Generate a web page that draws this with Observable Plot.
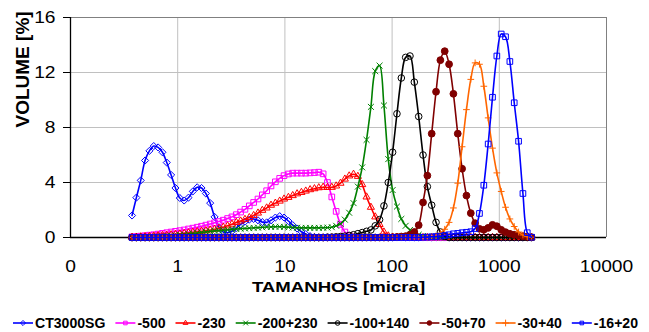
<!DOCTYPE html>
<html>
<head>
<meta charset="utf-8">
<script src="https://cdn.jsdelivr.net/npm/d3@7"></script>
<script src="https://cdn.jsdelivr.net/npm/@observablehq/plot@0.6"></script>
<style>
  body { margin: 0; background: #ffffff; font-family: "Liberation Sans", Arial, sans-serif; }
  #chart svg, #legend svg { display: block; }
</style>
</head>
<body>
<div id="chart"></div>
<div id="legend"></div>
<script>
// ---------- DATA ----------
// particle size classes (micra), 0.375 .. 2000
const sizes = [
  0.375, 0.4117, 0.4519, 0.4961, 0.5446, 0.5978, 0.6563, 0.7204, 0.7909, 0.8682,
  0.9531, 1.046, 1.149, 1.261, 1.384, 1.520, 1.668, 1.831, 2.010, 2.207,
  2.423, 2.660, 2.920, 3.205, 3.519, 3.863, 4.240, 4.655, 5.110, 5.610,
  6.158, 6.760, 7.421, 8.147, 8.943, 9.818, 10.78, 11.83, 12.99, 14.26,
  15.65, 17.18, 18.86, 20.71, 22.73, 24.95, 27.39, 30.07, 33.01, 36.24,
  39.78, 43.67, 47.94, 52.63, 57.77, 63.42, 69.62, 76.43, 83.90, 92.10,
  101.1, 111.0, 121.9, 133.8, 146.8, 161.2, 177.0, 194.3, 213.3, 234.1,
  257.0, 282.1, 309.7, 340.0, 373.2, 409.7, 449.8, 493.8, 542.1, 595.1,
  653.3, 717.2, 787.3, 864.3, 948.8, 1042, 1143, 1255, 1378, 1513,
  1661, 1823, 2000
];

const seriesNames = ["CT3000SG", "-500", "-230", "-200+230", "-100+140", "-50+70", "-30+40", "-16+20"];

const volCT3000SG = [
  1.6, 2.9, 4.15, 5.6, 6.3, 6.65, 6.55, 6.2, 5.45, 4.55,
  3.6, 2.87, 2.69, 2.9, 3.35, 3.65, 3.6, 3.2, 2.5, 1.5,
  0.75, 0.4, 0.35, 0.45, 0.7, 0.95, 1.15, 1.3, 1.35, 1.25,
  1.12, 1.1, 1.25, 1.45, 1.55, 1.45, 1.2, 0.9, 0.65, 0.42,
  0.25, 0.1, 0.03, 0, 0, 0, 0, 0, 0, 0,
  0, 0, 0, 0, 0, 0, 0, 0, 0, 0,
  0, 0, 0, 0, 0, 0, 0, 0, 0, 0,
  0, 0, 0, 0, 0, 0, 0, 0, 0, 0,
  0, 0, 0, 0, 0, 0, 0, 0, 0, 0,
  0, 0, 0
];
const vol500 = [
  0.05, 0.07, 0.1, 0.13, 0.17, 0.2, 0.25, 0.3, 0.35, 0.4,
  0.45, 0.5, 0.55, 0.62, 0.68, 0.75, 0.82, 0.9, 0.98, 1.07,
  1.16, 1.26, 1.38, 1.5, 1.66, 1.85, 2.05, 2.3, 2.55, 2.8,
  3.1, 3.4, 3.75, 4.05, 4.3, 4.5, 4.62, 4.68, 4.68, 4.68,
  4.68, 4.7, 4.72, 4.75, 4.63, 4.0, 2.95, 1.9, 0.95, 0.4,
  0.15, 0.03, 0, 0, 0, 0, 0, 0, 0, 0,
  0, 0, 0, 0, 0, 0, 0, 0, 0, 0,
  0, 0, 0, 0, 0, 0, 0, 0, 0, 0,
  0, 0, 0, 0, 0, 0, 0, 0, 0, 0,
  0, 0, 0
];
const vol230 = [
  0.02, 0.03, 0.05, 0.07, 0.09, 0.11, 0.13, 0.15, 0.17, 0.2,
  0.23, 0.26, 0.3, 0.34, 0.38, 0.42, 0.46, 0.5, 0.55, 0.6,
  0.67, 0.75, 0.85, 0.97, 1.1, 1.2, 1.32, 1.45, 1.6, 1.78,
  1.98, 2.15, 2.35, 2.5, 2.65, 2.8, 2.92, 3.05, 3.18, 3.28,
  3.38, 3.48, 3.55, 3.62, 3.66, 3.64, 3.65, 3.75, 3.95, 4.25,
  4.48, 4.6, 4.45, 3.85, 2.95, 2.2, 1.5, 0.95, 0.4, 0.12,
  0.03, 0, 0, 0, 0, 0, 0, 0, 0, 0,
  0, 0, 0, 0, 0, 0, 0, 0, 0, 0,
  0, 0, 0, 0, 0, 0, 0, 0, 0, 0,
  0, 0, 0
];
const vol200_230 = [
  0.01, 0.01, 0.02, 0.03, 0.04, 0.05, 0.06, 0.08, 0.1, 0.12,
  0.15, 0.18, 0.21, 0.25, 0.29, 0.33, 0.37, 0.41, 0.45, 0.48,
  0.5, 0.53, 0.56, 0.59, 0.62, 0.64, 0.66, 0.68, 0.7, 0.72,
  0.74, 0.76, 0.77, 0.78, 0.78, 0.77, 0.75, 0.73, 0.71, 0.7,
  0.7, 0.7, 0.7, 0.7, 0.71, 0.72, 0.75, 0.85, 1.0, 1.3,
  1.8, 2.5, 3.7, 5.1, 7.1, 9.5, 12.1, 12.5, 9.6, 5.7,
  3.45, 2.25, 1.35, 0.85, 0.55, 0.35, 0.2, 0.1, 0.04, 0,
  0, 0, 0, 0, 0, 0, 0, 0, 0, 0,
  0, 0, 0, 0, 0, 0, 0, 0, 0, 0,
  0, 0, 0
];
const vol100_140 = [
  0, 0, 0, 0, 0, 0, 0, 0, 0, 0,
  0, 0, 0, 0, 0, 0, 0, 0, 0, 0,
  0, 0, 0, 0, 0, 0, 0, 0, 0, 0,
  0, 0, 0, 0, 0, 0, 0, 0, 0, 0,
  0, 0, 0, 0, 0, 0.02, 0.03, 0.05, 0.07, 0.1,
  0.15, 0.2, 0.28, 0.36, 0.45, 0.55, 0.85, 1.3, 2.3, 4.0,
  6.2, 9.0, 11.6, 13.1, 13.2, 11.3, 8.8, 6.0, 3.7, 2.35,
  1.1, 0.4, 0.08, 0, 0, 0, 0, 0, 0, 0,
  0, 0, 0, 0, 0, 0, 0, 0, 0, 0,
  0, 0, 0
];
const vol50_70 = [
  0, 0, 0, 0, 0, 0, 0, 0, 0, 0,
  0, 0, 0, 0, 0, 0, 0, 0, 0, 0,
  0, 0, 0, 0, 0, 0, 0, 0, 0, 0,
  0, 0, 0, 0, 0, 0, 0, 0, 0, 0,
  0, 0, 0, 0, 0, 0, 0, 0, 0, 0,
  0, 0, 0, 0, 0, 0, 0, 0, 0, 0,
  0.02, 0.04, 0.07, 0.1, 0.2, 0.4, 0.9, 2.55, 4.5, 7.55,
  10.6, 12.9, 13.55, 12.6, 10.45, 7.55, 5.0, 3.05, 1.77, 1.04,
  0.63, 0.56, 0.7, 0.92, 0.82, 0.56, 0.39, 0.27, 0.2, 0.15,
  0.1, 0.05, 0.02
];
const vol30_40 = [
  0, 0, 0, 0, 0, 0, 0, 0, 0, 0,
  0, 0, 0, 0, 0, 0, 0, 0, 0, 0,
  0, 0, 0, 0, 0, 0, 0, 0, 0, 0,
  0, 0, 0, 0, 0, 0, 0, 0, 0, 0,
  0, 0, 0, 0, 0, 0, 0, 0, 0, 0,
  0, 0, 0, 0, 0, 0, 0, 0, 0, 0,
  0, 0, 0, 0, 0, 0, 0, 0.01, 0.02, 0.05,
  0.12, 0.31, 0.6, 1.1, 2.15, 3.95, 6.6, 9.3, 11.5, 12.7,
  12.6, 11.0, 8.7, 6.5, 4.7, 3.35, 2.2, 1.35, 0.8, 0.4,
  0.18, 0.06, 0.02
];
const vol16_20 = [
  0, 0, 0, 0, 0, 0, 0, 0, 0, 0,
  0, 0, 0, 0, 0, 0, 0, 0, 0, 0,
  0, 0, 0, 0, 0, 0, 0, 0, 0, 0,
  0, 0, 0, 0, 0, 0, 0, 0, 0, 0,
  0, 0, 0, 0, 0, 0, 0, 0, 0, 0,
  0, 0, 0, 0, 0, 0, 0, 0, 0, 0,
  0, 0, 0, 0, 0, 0, 0, 0.02, 0.03, 0.05,
  0.07, 0.1, 0.15, 0.2, 0.27, 0.3, 0.35, 0.38, 0.42, 0.65,
  1.75, 3.8, 6.8, 10.2, 13.2, 14.8, 14.6, 12.8, 9.8, 7.0,
  3.2, 0.35, 0.02
];

const xTicks = [0.1, 1, 10, 100, 1000, 10000];
const xTickLabels = ["0", "1", "10", "100", "1000", "10000"];
const yTicks = [0, 4, 8, 12, 16];
const xTitle = "TAMANHOS [micra]";
const yTitle = "VOLUME [%]";

// ---------- STYLES ----------
const seriesValues = [volCT3000SG, vol500, vol230, vol200_230, vol100_140, vol50_70, vol30_40, vol16_20];
const seriesStyle = [
  {color: "#0000ff", symbol: "diamond2", fill: "none", r: 3.2},
  {color: "#ff00ff", symbol: "square2", fill: "none", r: 3.6},
  {color: "#ff0000", symbol: "triangle2", fill: "none", r: 3.4},
  {color: "#008000", symbol: "times", fill: "none", r: 2.8},
  {color: "#000000", symbol: "circle", fill: "none", r: 3.3},
  {color: "#800000", symbol: "circle", fill: "#800000", r: 3.4},
  {color: "#ff6600", symbol: "plus", fill: "none", r: 2.3},
  {color: "#0000ff", symbol: "square2", fill: "none", r: 3.6}
];

const tables = seriesNames.map((name, k) =>
  sizes.map((x, i) => ({name, x, y: seriesValues[k][i]}))
);

const seriesMarks = [];
tables.forEach((rows, k) => {
  const s = seriesStyle[k];
  seriesMarks.push(Plot.line(rows, {x: "x", y: "y", stroke: s.color, strokeWidth: 1.6, curve: "catmull-rom"}));
  seriesMarks.push(Plot.dot(rows, {x: "x", y: "y", symbol: () => s.symbol, stroke: s.color, fill: s.fill, r: s.r, strokeWidth: 1}));
});

const chart = Plot.plot({
  width: 649,
  height: 305,
  marginLeft: 70,
  marginRight: 43,
  marginTop: 17,
  marginBottom: 68,
  style: {fontFamily: "'Liberation Sans', Arial, sans-serif", fontSize: "16px", color: "#000", background: "#fff"},
  x: {type: "log", domain: [0.1, 10000]},
  y: {domain: [0, 16]},
  symbol: {type: "identity"},
  marks: [
    Plot.gridX(xTicks, {stroke: "#c0c0c0", strokeOpacity: 1}),
    Plot.gridY(yTicks, {stroke: "#c0c0c0", strokeOpacity: 1}),
    Plot.ruleY([16], {stroke: "#808080", strokeWidth: 1}),
    Plot.ruleX([10000], {stroke: "#808080", strokeWidth: 1}),
    Plot.ruleX([0.1], {stroke: "#000", strokeWidth: 1.3}),
    Plot.ruleY([0], {stroke: "#000", strokeWidth: 1.6}),
    Plot.axisX(xTicks, {tickSize: 0, tickPadding: 23, tickFormat: d => xTickLabels[xTicks.indexOf(d)], label: null, fontSize: 16}),
    Plot.axisY(yTicks, {tickSize: 7, tickPadding: 8, label: null, fontSize: 16, stroke: "#000"}),
    Plot.text([xTitle], {frameAnchor: "bottom", dy: 54, fontSize: 15, fontWeight: "bold", fill: "#000"}),
    Plot.text([yTitle], {frameAnchor: "left", dx: -48, rotate: -90, fontSize: 19, fontWeight: "bold", fill: "#000"}),
    ...seriesMarks
  ]
});
document.getElementById("chart").appendChild(chart);

// horizontal text stretch (the reference text is wider than Arial)
function stretchText(el, k) {
  const len = el.getComputedTextLength();
  if (len > 0) {
    el.setAttribute("textLength", (len * k).toFixed(2));
    el.setAttribute("lengthAdjust", "spacingAndGlyphs");
  }
}
chart.querySelectorAll("text").forEach(t => {
  const s = t.textContent;
  if (s === yTitle) return;
  if (s === xTitle) stretchText(t, 1.24);
  else stretchText(t, 1.2);
});

// ---------- LEGEND ----------
const legendW = 649, legendH = 27, cy = 18;
const legendLeft = 13, legendRight = 638, swatchW = 20, swatchGap = 2, itemGap = 10;
const lsvg = d3.select("#legend").append("svg")
  .attr("width", legendW).attr("height", legendH)
  .style("font-family", "'Liberation Sans', Arial, sans-serif");
const symbolMap = {
  diamond2: d3.symbolDiamond2, square2: d3.symbolSquare2, triangle2: d3.symbolTriangle2,
  times: d3.symbolTimes, circle: d3.symbolCircle, plus: d3.symbolPlus
};
const items = [];
seriesNames.forEach((name, k) => {
  const s = seriesStyle[k];
  const g = lsvg.append("g");
  g.append("line").attr("x1", 0).attr("x2", swatchW).attr("y1", cy).attr("y2", cy)
    .attr("stroke", s.color).attr("stroke-width", 1.6);
  g.append("path").attr("transform", `translate(${swatchW / 2},${cy})`)
    .attr("d", d3.symbol(symbolMap[s.symbol], Math.PI * 2.3 * 2.3)())
    .attr("fill", s.fill).attr("stroke", s.color).attr("stroke-width", 1);
  const t = g.append("text").attr("x", swatchW + swatchGap).attr("y", cy).attr("dy", "0.35em")
    .attr("font-size", 14).attr("font-weight", "bold").attr("fill", "#000").text(name);
  items.push({g, t, w0: t.node().getComputedTextLength()});
});
// fit the row of items into the reference's legend span
const textSpace = (legendRight - legendLeft) - items.length * (swatchW + swatchGap) - itemGap * (items.length - 1);
const kText = textSpace / d3.sum(items, d => d.w0);
let xpos = legendLeft;
items.forEach(it => {
  const len = it.w0 * kText;
  it.t.attr("textLength", len.toFixed(2)).attr("lengthAdjust", "spacingAndGlyphs");
  it.g.attr("transform", `translate(${xpos.toFixed(1)},0)`);
  xpos += swatchW + swatchGap + len + itemGap;
});
</script>
</body>
</html>
